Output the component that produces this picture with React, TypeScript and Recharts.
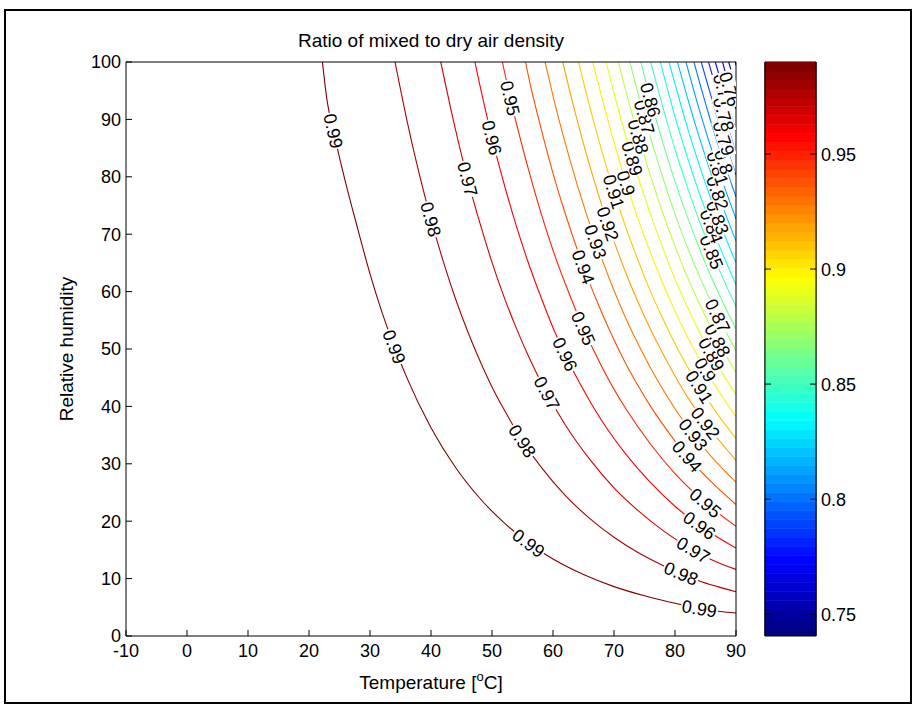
import React from "react";
import { ComposedChart, Line, Scatter, Bar, XAxis, YAxis, ReferenceArea, Label } from "recharts";

const xTicks = [-10, 0, 10, 20, 30, 40, 50, 60, 70, 80, 90];
const yTicks = [0, 10, 20, 30, 40, 50, 60, 70, 80, 90, 100];
const colorTicks = [0.75, 0.8, 0.85, 0.9, 0.95];
const colorRange = [0.7405, 0.99];

// contour lines as [temperature, relative humidity]
const c099 = [[22.2, 100], [23, 93], [24, 88], [26, 79], [28, 70.9], [30, 63.1], [32, 56.3], [34, 50.4], [36, 45.1], [40, 36.3], [44, 29.4], [48, 24.0], [52, 19.7], [56, 16.2], [60, 13.4], [65, 10.7], [70, 8.6], [75, 7.0], [80, 5.7], [84, 4.8], [90, 4.0]];
const c098 = [[34.1, 100], [36, 90.1], [38, 80.8], [40, 72.6], [42, 65.3], [44, 58.8], [46, 53.1], [48, 48.0], [50, 43.4], [52, 39.4], [55, 34.0], [58, 29.5], [62, 24.5], [66, 20.5], [70, 17.2], [74, 14.5], [78, 12.3], [81, 10.9], [84, 9.6], [87, 8.6], [90, 7.7]];
const c097 = [[41.6, 100], [44, 88.3], [46, 79.6], [48, 72.0], [50, 65.1], [52, 59.0], [54, 53.6], [56, 48.7], [59, 42.3], [62, 36.8], [66, 30.8], [70, 25.8], [74, 21.8], [78, 18.4], [83, 15.0], [86, 13.3], [90, 11.6]];
const c096 = [[47.2, 100], [48, 96.0], [50, 86.8], [52, 78.7], [54, 71.4], [56, 64.9], [58, 59.1], [60, 53.7], [62, 49.1], [64, 44.8], [66, 41.0], [68, 37.5], [72, 31.6], [76, 26.7], [80, 22.6], [84, 19.3], [87, 17.2], [90, 15.3]];
const c095 = [[51.7, 100], [53, 93.7], [54, 89.3], [56, 81.2], [58, 73.8], [60, 67.2], [62, 61.4], [65, 53.6], [68, 46.9], [70, 43.0], [72, 39.5], [76, 33.4], [80, 28.3], [85, 23.2], [90, 19.1]];
const c094 = [[55.5, 100], [56, 97.4], [58, 88.6], [60, 80.6], [62, 73.6], [65, 64.3], [68, 56.3], [70, 51.6], [72, 47.3], [74, 43.5], [76, 40.0], [79, 35.4], [82, 31.3], [86, 26.8], [90, 22.9]];
const c093 = [[58.7, 100], [60, 94.1], [62, 85.9], [64, 78.5], [67, 68.7], [70, 60.2], [72, 55.2], [74, 50.8], [76, 46.7], [78, 43.0], [80, 39.6], [83, 35.1], [86, 31.2], [90, 26.8]];
const c092 = [[61.6, 100], [62, 98.2], [64, 89.7], [66, 82.0], [69, 71.8], [72, 63.1], [74, 58.0], [76, 53.4], [78, 49.2], [80, 45.3], [82, 41.7], [85, 37.1], [90, 30.6]];
const c091 = [[64.2, 100], [66, 92.3], [68, 84.5], [70, 77.4], [72, 71.0], [74, 65.3], [76, 60.0], [78, 55.3], [80, 50.9], [82, 47.0], [84, 43.4], [87, 38.6], [90, 34.4]];
const c090 = [[66.5, 100], [68, 93.9], [70, 86.0], [72, 78.9], [74, 72.5], [76, 66.7], [78, 61.4], [80, 56.6], [82, 52.2], [85, 46.4], [88, 41.3], [90, 38.2]];
const c089 = [[68.7, 100], [70, 94.6], [73, 83.2], [76, 73.4], [78, 67.6], [80, 62.2], [82, 57.4], [84, 53.0], [86, 49.1], [88, 45.4], [90, 42.1]];
const c088 = [[70.7, 100], [72, 94.7], [74, 87.0], [76, 80.1], [78, 73.7], [80, 67.9], [82, 62.6], [84, 57.9], [87, 51.5], [90, 45.9]];
const c087 = [[72.6, 100], [75, 90.4], [78, 79.9], [80, 73.5], [82, 67.8], [84, 62.7], [87, 55.8], [90, 49.7]];
const c086 = [[74.4, 100], [76, 93.4], [78, 86.0], [80, 79.2], [82, 73.1], [84, 67.5], [86, 62.4], [88, 57.8], [90, 53.5]];
const c085 = [[76.0, 100], [78, 92.2], [80, 84.8], [82, 78.3], [84, 72.3], [86, 66.9], [88, 62.0], [90, 57.4]];
const c084 = [[77.6, 100], [80, 90.5], [82, 83.5], [84, 77.1], [86, 71.4], [88, 66.1], [90, 61.2]];
const c083 = [[79.0, 100], [80, 96.2], [82, 88.7], [84, 82.0], [87, 72.9], [90, 65.0]];
const c082 = [[80.4, 100], [82, 93.9], [84, 86.8], [87, 77.2], [90, 68.8]];
const c081 = [[81.8, 100], [84, 91.6], [87, 81.5], [90, 72.7]];
const c080 = [[83.1, 100], [86, 89.2], [88, 82.6], [90, 76.5]];
const c079 = [[84.3, 100], [86, 93.7], [88, 86.7], [90, 80.3]];
const c078 = [[85.5, 100], [88, 90.9], [90, 84.1]];
const c077 = [[86.6, 100], [88, 95.0], [90, 88.0]];
const c076 = [[87.8, 100], [89, 95.3], [90, 91.8]];
const c075 = [[88.8, 100], [90, 95.6]];
const c074 = [[89.9, 100], [90, 99.4]];

const levels = [0.99, 0.98, 0.97, 0.96, 0.95, 0.94, 0.93, 0.92, 0.91, 0.9, 0.89, 0.88, 0.87, 0.86, 0.85, 0.84, 0.83, 0.82, 0.81, 0.8, 0.79, 0.78, 0.77, 0.76, 0.75, 0.74];
const contourPts = [c099, c098, c097, c096, c095, c094, c093, c092, c091, c090, c089, c088, c087, c086, c085, c084, c083, c082, c081, c080, c079, c078, c077, c076, c075, c074];

// inline label spots: [level, temperature of a contour point]
const labelSpots = [
  [0.99, 24], [0.99, 34], [0.99, 56], [0.99, 84],
  [0.98, 40], [0.98, 55], [0.98, 81],
  [0.97, 46], [0.97, 59], [0.97, 83],
  [0.96, 50], [0.96, 62], [0.96, 84],
  [0.95, 53], [0.95, 65], [0.95, 85],
  [0.94, 65], [0.94, 82],
  [0.93, 67], [0.93, 83],
  [0.92, 69], [0.92, 85],
  [0.91, 70], [0.91, 84],
  [0.9, 72], [0.9, 85],
  [0.89, 73], [0.89, 86],
  [0.88, 74], [0.88, 87],
  [0.87, 75], [0.87, 87],
  [0.86, 76], [0.85, 86], [0.84, 86], [0.83, 87], [0.82, 87],
  [0.81, 87], [0.8, 88], [0.79, 88], [0.78, 88], [0.77, 88], [0.76, 89],
];

const W = 915;
const H = 708;
const PLOT = { left: 126, top: 62, right: 736, bottom: 636 };
const SX = (PLOT.right - PLOT.left) / 100;
const SY = (PLOT.bottom - PLOT.top) / 100;
const FONT = "Arial, 'Liberation Sans', Helvetica, sans-serif";
const FS = 18; // ticks and contour labels
const FT = 19; // title and axis names

const clamp = (v: number) => Math.max(0, Math.min(1, v));
const jet = (f: number) => {
  const r = clamp(Math.min(4 * f - 1.5, -4 * f + 4.5));
  const g = clamp(Math.min(4 * f - 0.5, -4 * f + 3.5));
  const b = clamp(Math.min(4 * f + 0.5, -4 * f + 2.5));
  return `rgb(${Math.round(r * 255)},${Math.round(g * 255)},${Math.round(b * 255)})`;
};
const levelColor = (v: number) => jet((v - colorRange[0]) / (colorRange[1] - colorRange[0]));

const fmt = (v: number) => v.toFixed(2).replace(/0$/, "");

const angleAt = (pts: number[][], t: number) => {
  const i = pts.findIndex((p) => p[0] === t);
  const a = pts[Math.max(0, i - 1)];
  const b = pts[Math.min(pts.length - 1, i + 1)];
  return (Math.atan2((a[1] - b[1]) * SY, (b[0] - a[0]) * SX) * 180) / Math.PI;
};

const labelData = labelSpots.map(([level, t]) => {
  const pts = contourPts[levels.indexOf(level)];
  const p = pts.find((q) => q[0] === t)!;
  return { t, rh: p[1], level };
});

const ContourLabel = (props: any) => {
  const { cx, cy, payload } = props;
  const txt = fmt(payload.level);
  const angle = angleAt(contourPts[levels.indexOf(payload.level)], payload.t);
  const w = ((txt.length - 1) * 0.556 + 0.278) * FS + 2;
  return (
    <g transform={`translate(${cx},${cy}) rotate(${angle})`}>
      <rect x={-w / 2} y={-FS * 0.42} width={w} height={FS * 0.84} fill="#fff" />
      <text x={0} y={0} dy="0.36em" textAnchor="middle" fontFamily={FONT} fontSize={FS} fill="#000">
        {txt}
      </text>
    </g>
  );
};

const BottomTick = ({ x, y, payload }: any) => (
  <g>
    <line x1={x} x2={x} y1={y} y2={y - 6} stroke="#000" />
    <text x={x} y={y + 21} textAnchor="middle" fontFamily={FONT} fontSize={FS} fill="#000">
      {payload.value}
    </text>
  </g>
);
const TopTick = ({ x, y }: any) => <line x1={x} x2={x} y1={y} y2={y + 6} stroke="#000" />;
const LeftTick = ({ x, y, payload }: any) => (
  <g>
    <line x1={x} x2={x + 6} y1={y} y2={y} stroke="#000" />
    <text x={x - 5} y={y} dy="0.36em" textAnchor="end" fontFamily={FONT} fontSize={FS} fill="#000">
      {payload.value}
    </text>
  </g>
);
const RightTick = ({ x, y }: any) => <line x1={x} x2={x - 6} y1={y} y2={y} stroke="#000" />;
const BarRightTick = ({ x, y, payload }: any) => (
  <g>
    <line x1={x} x2={x - 6} y1={y} y2={y} stroke="#000" />
    <text x={x + 5} y={y} dy="0.36em" textAnchor="start" fontFamily={FONT} fontSize={FS} fill="#000">
      {payload.value}
    </text>
  </g>
);
const BarLeftTick = ({ x, y }: any) => <line x1={x} x2={x + 6} y1={y} y2={y} stroke="#000" />;

// colour bar: 64 stacked steps of the jet map between the colour limits
const bandStep = (colorRange[1] - colorRange[0]) / 64;
const bandKeys = Array.from({ length: 64 }, (_, i) => `b${i}`);
const bandRow: Record<string, any> = { name: "c" };
bandKeys.forEach((k, i) => {
  bandRow[k] = i === 0 ? colorRange[0] + bandStep : bandStep;
});

export default function App() {
  const midX = (PLOT.left + PLOT.right) / 2;
  const midY = (PLOT.top + PLOT.bottom) / 2;
  return (
    <div style={{ position: "absolute", left: 0, top: 0, width: W, height: H, background: "#fff" }}>
      <div
        style={{
          position: "absolute",
          left: 4,
          top: 9,
          width: 904,
          height: 691,
          border: "2px solid #000",
        }}
      />
      <div style={{ position: "absolute", left: 0, top: 0 }}>
        <ComposedChart
          width={W}
          height={H}
          margin={{ top: PLOT.top - 1, left: 66, right: W - PLOT.right - 1, bottom: 32 }}
        >
          {levels.map((lv, i) => (
            <Line
              key={lv}
              data={contourPts[i].map(([t, rh]) => ({ t, rh }))}
              dataKey="rh"
              type="monotone"
              stroke={levelColor(lv)}
              strokeWidth={1.1}
              dot={false}
              activeDot={false}
              isAnimationActive={false}
            />
          ))}
          <Scatter data={labelData} shape={(p: any) => <ContourLabel {...p} />} isAnimationActive={false} />
          <XAxis
            dataKey="t"
            type="number"
            domain={[-10, 90]}
            ticks={xTicks}
            interval={0}
            allowDataOverflow
            height={40}
            tickSize={0}
            tickMargin={0}
            tickLine={false}
            axisLine={{ stroke: "#000" }}
            tick={(p: any) => <BottomTick {...p} />}
          >
            <Label
              content={() => (
                <text x={midX} y={689} textAnchor="middle" fontFamily={FONT} fontSize={FT} fill="#000">
                  Temperature [<tspan dy={-8} fontSize={13}>o</tspan>
                  <tspan dy={8}>C]</tspan>
                </text>
              )}
            />
          </XAxis>
          <XAxis
            xAxisId="top"
            orientation="top"
            type="number"
            domain={[-10, 90]}
            ticks={xTicks}
            interval={0}
            height={1}
            tickSize={0}
            tickMargin={0}
            tickLine={false}
            axisLine={{ stroke: "#000" }}
            tick={(p: any) => <TopTick {...p} />}
          >
            <Label
              content={() => (
                <text x={midX} y={47} textAnchor="middle" fontFamily={FONT} fontSize={FT} fill="#000">
                  Ratio of mixed to dry air density
                </text>
              )}
            />
          </XAxis>
          <YAxis
            dataKey="rh"
            type="number"
            domain={[0, 100]}
            ticks={yTicks}
            interval={0}
            allowDataOverflow
            width={60}
            tickSize={0}
            tickMargin={0}
            tickLine={false}
            axisLine={{ stroke: "#000" }}
            tick={(p: any) => <LeftTick {...p} />}
          >
            <Label
              content={() => (
                <text
                  x={73}
                  y={midY}
                  textAnchor="middle"
                  transform={`rotate(-90 73 ${midY})`}
                  fontFamily={FONT}
                  fontSize={FT}
                  fill="#000"
                >
                  Relative humidity
                </text>
              )}
            />
          </YAxis>
          <YAxis
            yAxisId="right"
            orientation="right"
            type="number"
            domain={[0, 100]}
            ticks={yTicks}
            interval={0}
            width={1}
            tickSize={0}
            tickMargin={0}
            tickLine={false}
            axisLine={{ stroke: "#000" }}
            tick={(p: any) => <RightTick {...p} />}
          />
        </ComposedChart>
      </div>
      <div style={{ position: "absolute", left: 740, top: 0 }}>
        <ComposedChart
          width={175}
          height={H}
          data={[bandRow]}
          barCategoryGap={0}
          barGap={0}
          margin={{ top: PLOT.top, left: 24, right: 98, bottom: H - PLOT.bottom }}
        >
          {bandKeys.map((k, i) => (
            <Bar
              key={k}
              dataKey={k}
              yAxisId="r"
              stackId="cb"
              fill={jet(i / 63)}
              stroke={jet(i / 63)}
              strokeWidth={0.6}
              isAnimationActive={false}
            />
          ))}
          <ReferenceArea yAxisId="r" y1={colorRange[0]} y2={colorRange[1]} fill="none" stroke="#000" />
          <XAxis dataKey="name" type="category" hide />
          <YAxis
            yAxisId="r"
            orientation="right"
            type="number"
            domain={colorRange}
            ticks={colorTicks}
            interval={0}
            allowDataOverflow
            width={1}
            tickSize={0}
            tickMargin={0}
            tickLine={false}
            axisLine={{ stroke: "#000" }}
            tick={(p: any) => <BarRightTick {...p} />}
          />
          <YAxis
            yAxisId="l"
            orientation="left"
            type="number"
            domain={colorRange}
            ticks={colorTicks}
            interval={0}
            allowDataOverflow
            width={1}
            tickSize={0}
            tickMargin={0}
            tickLine={false}
            axisLine={{ stroke: "#000" }}
            tick={(p: any) => <BarLeftTick {...p} />}
          />
        </ComposedChart>
      </div>
    </div>
  );
}
